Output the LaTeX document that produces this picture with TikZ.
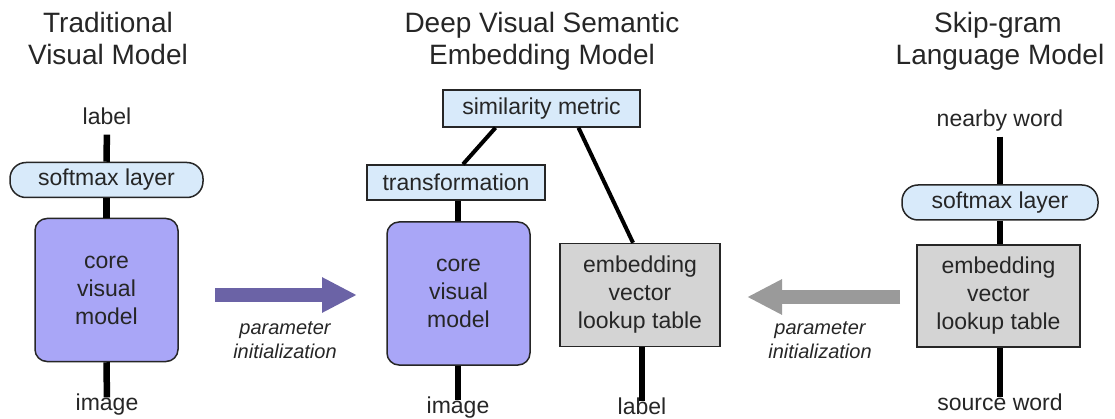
\documentclass[tikz,border=0pt]{standalone}
\usepackage{fontspec}
\setmainfont{Liberation Sans}
\usetikzlibrary{arrows.meta}
\definecolor{lav}{HTML}{A9A6F7}
\definecolor{lblue}{HTML}{D8EAFA}
\definecolor{lgray}{HTML}{D4D4D4}
\definecolor{arrpurple}{HTML}{6B63A6}
\definecolor{arrgray}{HTML}{9A9A9A}
\definecolor{ink}{HTML}{262626}
\begin{document}
\begin{tikzpicture}[x=1pt,y=-1pt,
  title/.style={font=\fontsize{28}{32}\selectfont, inner sep=0pt, anchor=base, text=ink},
  txt/.style={font=\fontsize{23}{28}\selectfont, inner sep=0pt, text height=0.75em, text depth=0.25em, anchor=base, text=ink},
  boxtext/.style={font=\fontsize{23}{28}\selectfont, align=center, text=ink, inner sep=0pt, draw=ink, line width=1.5pt},
  pill/.style={boxtext, fill=lblue, rounded corners=16pt},
  rect/.style={boxtext, fill=lblue},
  core/.style={boxtext, fill=lav, rounded corners=12pt, minimum width=143pt, minimum height=143pt},
  table/.style={boxtext, fill=lgray, minimum height=103pt},
  thick line/.style={line width=6.5pt, black},
  diag line/.style={line width=4pt, black},
  param/.style={font=\fontsize{20}{24}\selectfont\itshape, align=center, text=ink, inner sep=0pt},
  bigarrow/.style={line width=14pt, -{Triangle[width=33pt,length=35pt]}}
]
\useasboundingbox (0,0) rectangle (1115,419);
% ---------- titles
\node[title] (t1a) at (108,33) {Traditional};
\node[title] (t1b) at (108,65) {Visual Model};
\node[title] (t2a) at (542,33) {Deep Visual Semantic};
\node[title] (t2b) at (542,65) {Embedding Model};
\node[title] (t3a) at (998,33) {Skip-gram};
\node[title] (t3b) at (1000,65) {Language Model};
% ---------- left model
\node[txt] (lab1) at (107,125) {label};
\node[pill, minimum width=193pt, minimum height=35pt] (sm1) at (106.5,180) {softmax layer};
\node[core] (core1) at (106.5,290) {core\\visual\\model};
\node[txt] (img1) at (107,410) {image};
\draw[thick line, shorten <=7pt] (lab1.south) -- (sm1.north);
\draw[thick line] (sm1.south) -- (core1.north);
\draw[thick line, shorten >=5pt] (core1.south) -- (img1.north);
% ---------- arrow 1
\coordinate (a1s) at (215,295);
\coordinate (a1e) at (357,295);
\draw[bigarrow, arrpurple] (a1s) -- (a1e);
\node[param] (p1) at (285,340) {parameter\\initialization};
% ---------- middle model
\node[rect, minimum width=197pt, minimum height=37pt] (sim) at (541.5,108.5) {similarity metric};
\node[rect, minimum width=178pt, minimum height=35pt] (trans) at (456,182.5) {transformation};
\node[core] (core2) at (458.5,293.5) {core\\visual\\model};
\node[table, minimum width=160pt] (emb2) at (640,295) {embedding\\vector\\lookup table};
\node[txt] (img2) at (458,413) {image};
\node[txt] (lab2) at (642,414) {label};
\draw[diag line] ([xshift=-46pt]sim.south) -- ([xshift=7pt]trans.north);
\draw[diag line] ([xshift=37pt]sim.south) -- ([xshift=-7pt]emb2.north);
\draw[thick line] ([xshift=2pt]trans.south) -- ([xshift=-0.5pt]core2.north);
\draw[thick line, shorten >=5pt] ([xshift=-0.5pt]core2.south) -- (img2.north);
\draw[thick line, shorten >=5pt] ([xshift=2pt]emb2.south) -- (lab2.north);
% ---------- arrow 2
\coordinate (a2s) at (900,297);
\coordinate (a2e) at (747,297);
\draw[bigarrow, arrgray] (a2s) -- (a2e);
\node[param] (p2) at (820,340) {parameter\\initialization};
% ---------- right model
\node[txt] (nw) at (1000,127) {nearby word};
\node[pill, minimum width=196pt, minimum height=35pt] (sm3) at (1000,202.5) {softmax layer};
\node[table, minimum width=163pt, minimum height=102pt] (emb3) at (998.5,296) {embedding\\vector\\lookup table};
\node[txt] (sw) at (1000,410) {source word};
\draw[thick line, shorten <=7pt] (nw.south) -- (sm3.north);
\draw[thick line] (sm3.south) -- ([xshift=1.5pt]emb3.north);
\draw[thick line, shorten >=5pt] ([xshift=1.5pt]emb3.south) -- (sw.north);
\end{tikzpicture}
\end{document}
